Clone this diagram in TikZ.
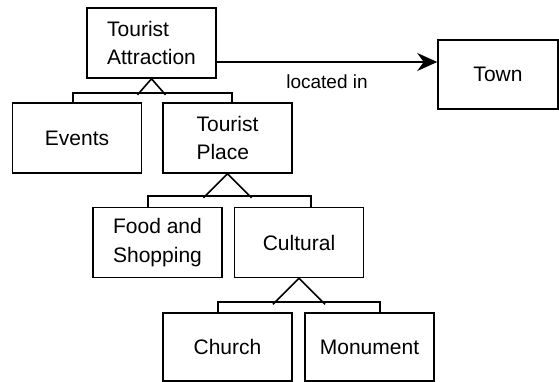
\documentclass[tikz,border=0pt]{standalone}
\usepackage{fontspec}
\setmainfont{Liberation Sans}
\usetikzlibrary{arrows.meta, positioning}

\begin{document}
\begin{tikzpicture}[x=1pt,y=1pt,on grid,line width=1.6pt]
    \tikzstyle{entity}=[shape=rectangle,draw,line width=1.6pt,minimum width=129pt,minimum height=70pt,align=left,font=\fontsize{21}{28.5}\selectfont]
    \tikzstyle{relation}=[font=\fontsize{19}{23}\selectfont]
    \useasboundingbox (0,0) rectangle (559,-382);

    \node[entity] (TA) at (151.5,-43) {Tourist\\Attraction};
    \node[entity, below left=95pt and 74.5pt of TA] (EV) {Events};
    \node[entity, right=150.5pt of EV] (TP) {Tourist\\Place};
    \node[entity, below left=104.5pt and 70pt of TP] (FS) {Food and\\Shopping};
    \node[entity, right=141.5pt of FS] (CU) {Cultural};
    \node[entity, below left=104.5pt and 71.5pt of CU, minimum height=68pt] (CH) {Church};
    \node[entity, right=142pt of CH, minimum height=68pt] (MO) {Monument};
    \node[entity, below right=31.5pt and 346.5pt of TA, minimum width=120pt, minimum height=69pt] (TO) {Town};

    % is-a links
    \draw ([xshift=-4pt]EV.north) -- ++(0,9pt) -| ([xshift=4.5pt]TP.north);
    \draw ([shift={(-14pt,-16pt)}]TA.south) -- (TA.south) -- ([shift={(14pt,-16pt)}]TA.south);
    \draw ([xshift=-9.5pt]FS.north) -- ++(0,11pt) -| ([xshift=12pt]CU.north);
    \draw ([shift={(-24pt,-24pt)}]TP.south) -- (TP.south) -- ([shift={(24pt,-24pt)}]TP.south);
    \draw ([xshift=-9.5pt]CH.north) -- ++(0,10pt) -| ([xshift=10.5pt]MO.north);
    \draw ([shift={(-26pt,-26pt)}]CU.south) -- (CU.south) -- ([shift={(26pt,-26pt)}]CU.south);

    % association
    \coordinate (loc) at ([yshift=-19pt]TA.east);
    \draw[-{Stealth[length=20pt,width=18pt]}] (loc) -- (loc -| TO.west)
        node[relation, midway, yshift=-20pt] {located in};
\end{tikzpicture}
\end{document}
